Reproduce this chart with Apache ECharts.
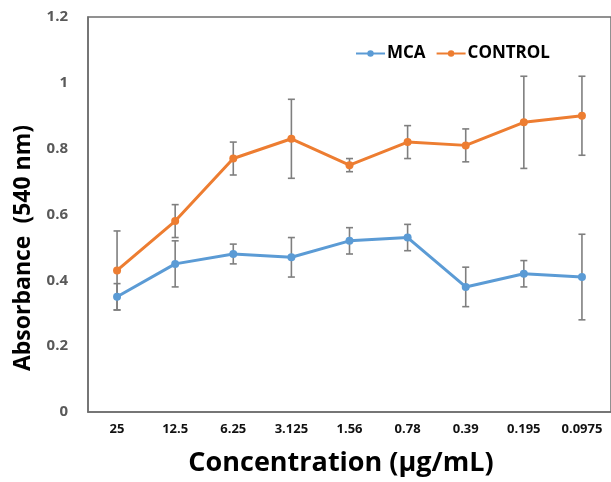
<!DOCTYPE html>
<html>
<head>
<meta charset="utf-8">
<script src="https://cdn.jsdelivr.net/npm/echarts@6/dist/echarts.min.js"></script>
<style>
  html, body { margin: 0; padding: 0; background: #fff; }
  #chart { width: 611px; height: 482px; }
</style>
</head>
<body>
<div id="chart"></div>
<script>
  // concentrations (ug/mL) along x
  var categories = ['25', '12.5', '6.25', '3.125', '1.56', '0.78', '0.39', '0.195', '0.0975']
  var mca = [0.35, 0.45, 0.48, 0.47, 0.52, 0.53, 0.38, 0.42, 0.41]
  var mcaErr = [0.04, 0.07, 0.03, 0.06, 0.04, 0.04, 0.06, 0.04, 0.13]
  var control = [0.43, 0.58, 0.77, 0.83, 0.75, 0.82, 0.81, 0.88, 0.90]
  var controlErr = [0.12, 0.05, 0.05, 0.12, 0.02, 0.05, 0.05, 0.14, 0.12]

  var blue = '#5b9bd5'
  var orange = '#ed7d31'
  var errColor = '#7f7f7f'
  var font = '"Open Sans", Lato, sans-serif'

  function errData(vals, errs) {
    return vals.map(function (v, i) {
      return [i, v - errs[i], v + errs[i]]
    })
  }

  function renderErr(params, api) {
    var lo = api.coord([api.value(0), api.value(1)])
    var hi = api.coord([api.value(0), api.value(2)])
    var w = 3.5
    var style = { stroke: errColor, lineWidth: 1.6 }
    return {
      type: 'group',
      children: [
        { type: 'line', shape: { x1: lo[0], y1: lo[1], x2: hi[0], y2: hi[1] }, style: style },
        { type: 'line', shape: { x1: lo[0] - w, y1: lo[1], x2: lo[0] + w, y2: lo[1] }, style: style },
        { type: 'line', shape: { x1: hi[0] - w, y1: hi[1], x2: hi[0] + w, y2: hi[1] }, style: style }
      ]
    }
  }

  var chart = echarts.init(document.getElementById('chart'))
  chart.setOption({
    animation: false,
    backgroundColor: '#fff',
    grid: {
      left: 88,
      top: 17,
      width: 527,
      height: 395,
      show: true,
      borderColor: '#6e6e6e',
      borderWidth: 1.5
    },
    legend: {
      left: 350,
      top: 40,
      itemWidth: 29,
      itemHeight: 8,
      itemGap: 10,
      data: ['MCA', 'CONTROL'],
      textStyle: { fontFamily: font, fontWeight: 'bold', fontSize: 17, color: '#000', padding: [0, 0, 0, -3] }
    },
    xAxis: {
      type: 'category',
      data: categories,
      axisLine: { show: true, lineStyle: { color: '#6e6e6e', width: 1.5 } },
      axisTick: { show: false },
      axisLabel: { margin: 11, fontFamily: font, fontWeight: 'bold', fontSize: 13, color: '#111' }
    },
    yAxis: {
      type: 'value',
      min: 0,
      max: 1.2,
      interval: 0.2,
      axisLine: { show: true, lineStyle: { color: '#6e6e6e', width: 1.5 } },
      axisTick: { show: false },
      splitLine: { show: false },
      axisLabel: { margin: 20, fontFamily: font, fontWeight: 'bold', fontSize: 15, color: '#595959' }
    },
    graphic: [
      {
        type: 'text',
        x: 341,
        y: 450,
        style: { text: 'Concentration (µg/mL)', align: 'center', fontFamily: font, fontWeight: 'bold', fontSize: 27, fill: '#000' }
      },
      {
        type: 'text',
        x: 12,
        y: 248,
        rotation: Math.PI / 2,
        style: { text: 'Absorbance  (540 nm)', align: 'center', fontFamily: font, fontWeight: 'bold', fontSize: 23, fill: '#000' }
      }
    ],
    series: [
      {
        name: 'MCA',
        type: 'line',
        data: mca,
        symbol: 'circle',
        symbolSize: 8,
        itemStyle: { color: blue },
        lineStyle: { color: blue, width: 3 },
        z: 3
      },
      {
        name: 'CONTROL',
        type: 'line',
        data: control,
        symbol: 'circle',
        symbolSize: 8,
        itemStyle: { color: orange },
        lineStyle: { color: orange, width: 3 },
        z: 3
      },
      {
        type: 'custom',
        data: errData(mca, mcaErr),
        renderItem: renderErr,
        z: 2
      },
      {
        type: 'custom',
        data: errData(control, controlErr),
        renderItem: renderErr,
        z: 2
      }
    ]
  })
</script>
</body>
</html>
